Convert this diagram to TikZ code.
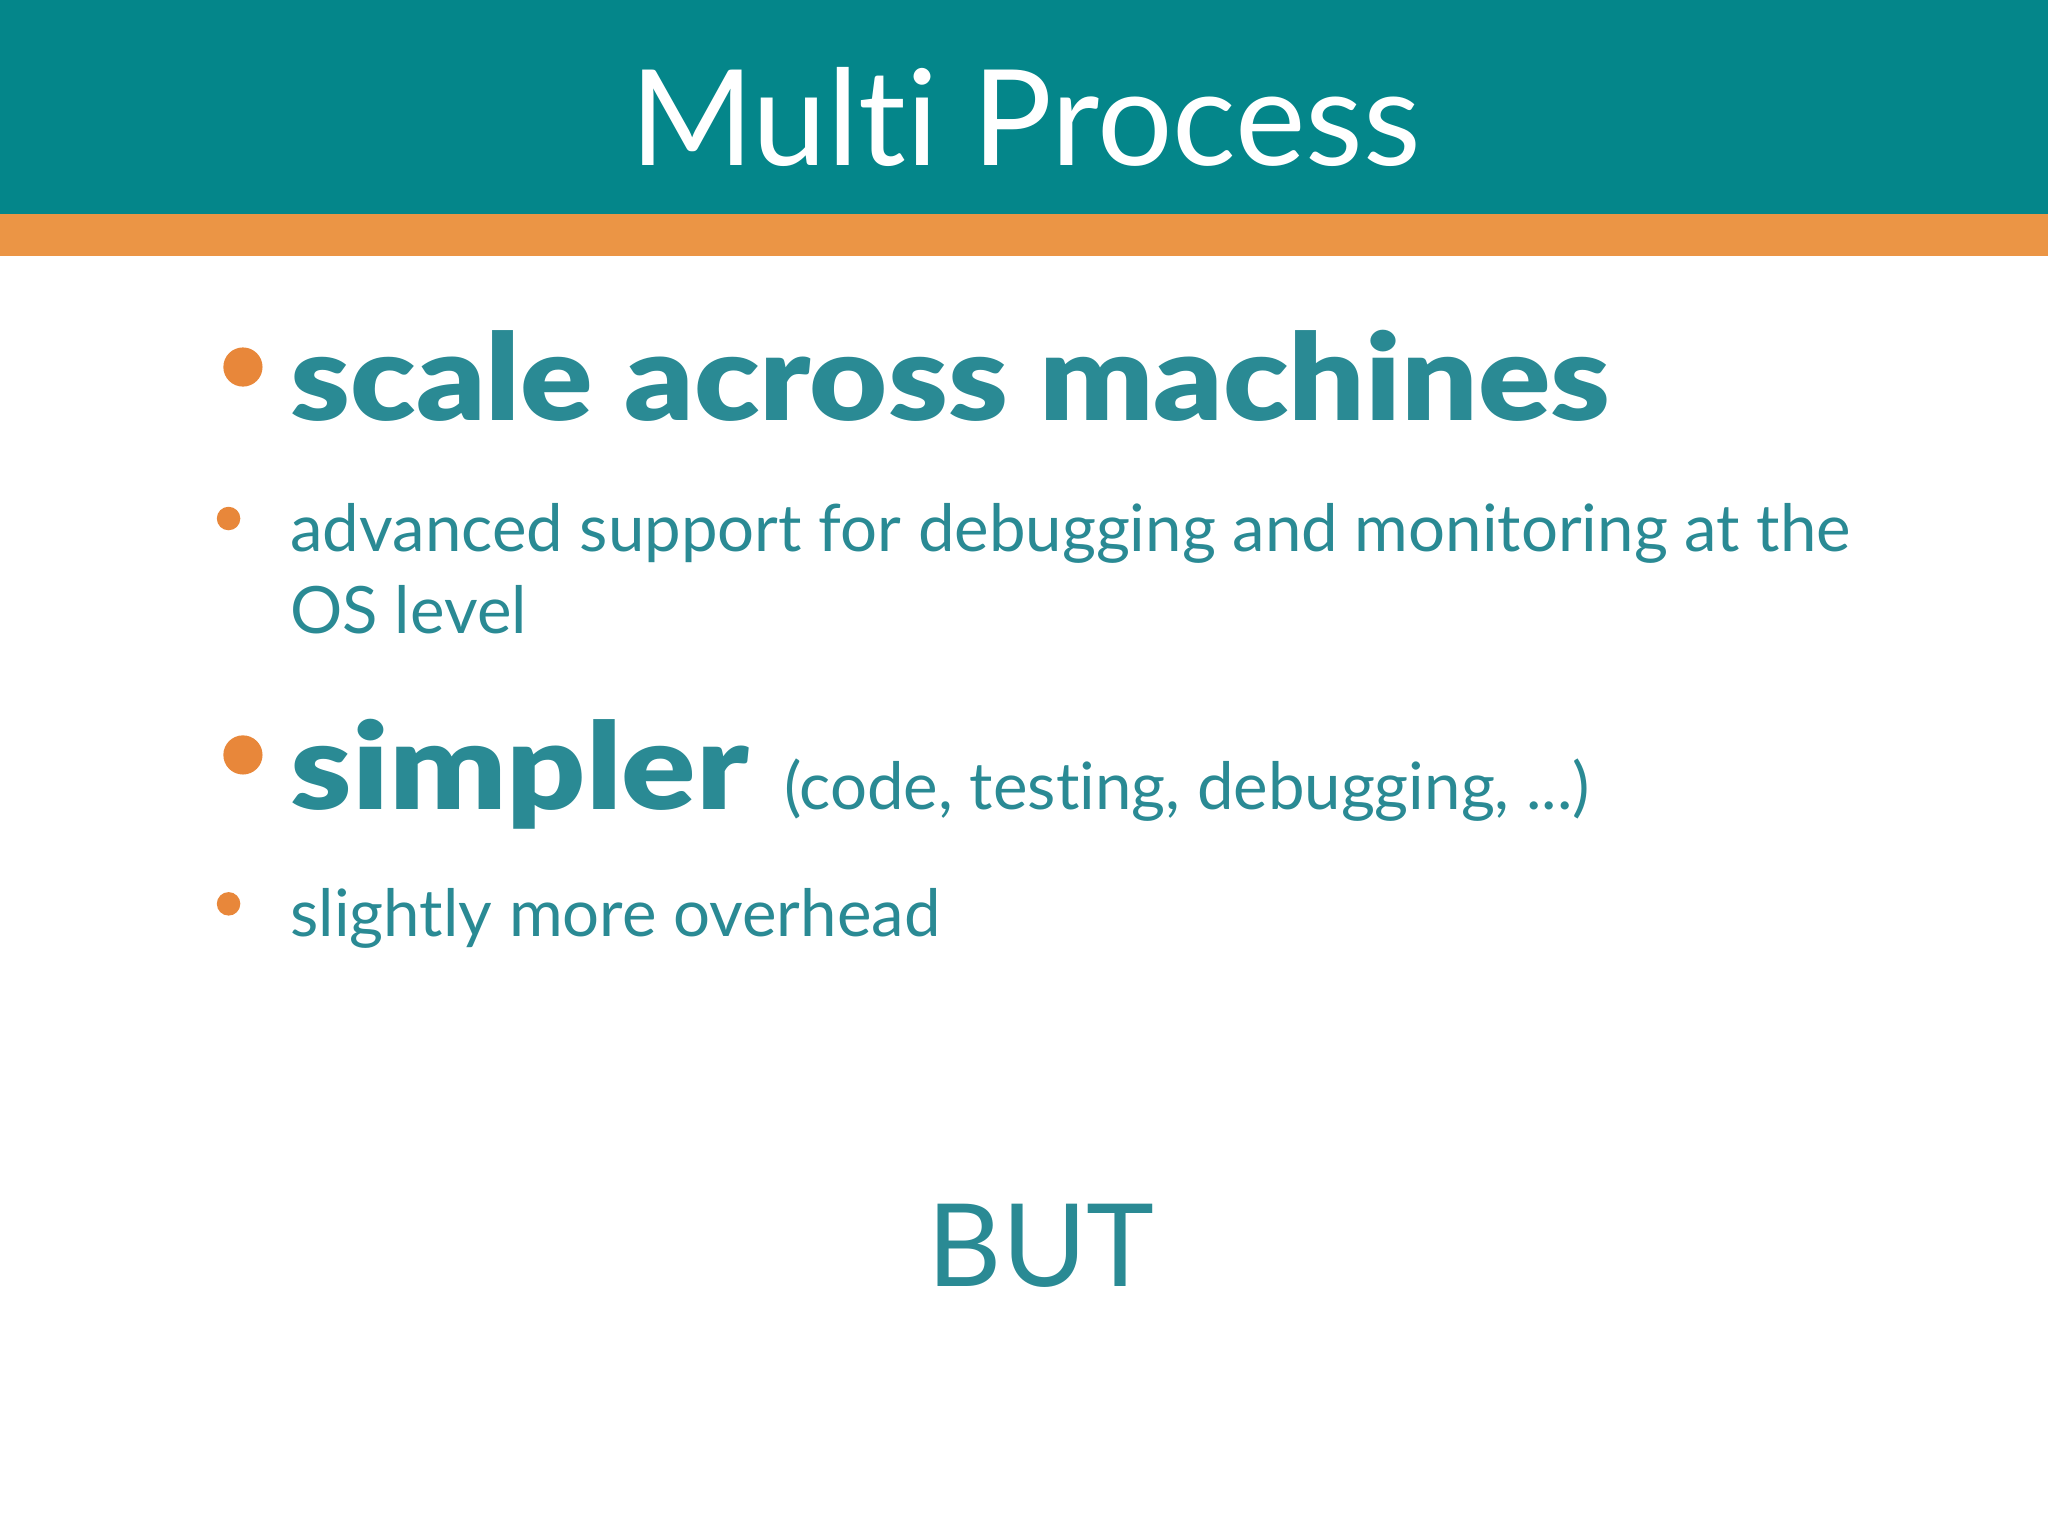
\documentclass[tikz,border=0pt]{standalone}
\usepackage{fontspec}
\setmainfont{Lato}[Ligatures={NoCommon}]
\newfontfamily\boldf{Lato Black}[Ligatures={NoCommon}]
\definecolor{hdr}{HTML}{04868A}
\definecolor{org}{HTML}{EB9545}
\definecolor{dot}{HTML}{E8873A}
\definecolor{txt}{HTML}{2A8A94}
\begin{document}
\begin{tikzpicture}[x=0.5pt,y=-0.5pt,
  big/.style={anchor=base west,inner sep=0,text=txt,font=\boldf\fontsize{46}{50}\selectfont},
  small/.style={anchor=base west,inner sep=0,text=txt,font=\fontsize{25}{30}\selectfont},
  dotb/.style={fill=dot,draw=none}]
\useasboundingbox (0,0) rectangle (1568,1176);
\fill[hdr] (0,0) rectangle (1568,164);
\fill[org] (0,164) rectangle (1568,196);
\node[anchor=base,inner sep=0,text=white,font=\fontsize{51}{56}\selectfont] (title) at (785,127) {Multi Process};
\fill[dotb] (186,281) circle (15);
\node[big] (b1) at (222,322) {\scalebox{1.12}[1]{scale across machines}};
\fill[dotb] (175,397) circle (9);
\node[small] (s1) at (222,422) {advanced support for debugging and monitoring at the};
\node[small] (s1b) at (222,485) {OS level};
\fill[dotb] (186,578) circle (15);
\node[big] (b2) at (222,620) {\scalebox{1.15}[1]{simpler}};
\node[small] (b2p) at (600,620) {(code, testing, debugging, ...)};
\fill[dotb] (175,692) circle (9);
\node[small] (s2) at (222,717) {slightly more overhead};
\node[anchor=base,inner sep=0,text=txt,font=\fontsize{44}{50}\selectfont] (but) at (797,985) {BUT};
\end{tikzpicture}
\end{document}
